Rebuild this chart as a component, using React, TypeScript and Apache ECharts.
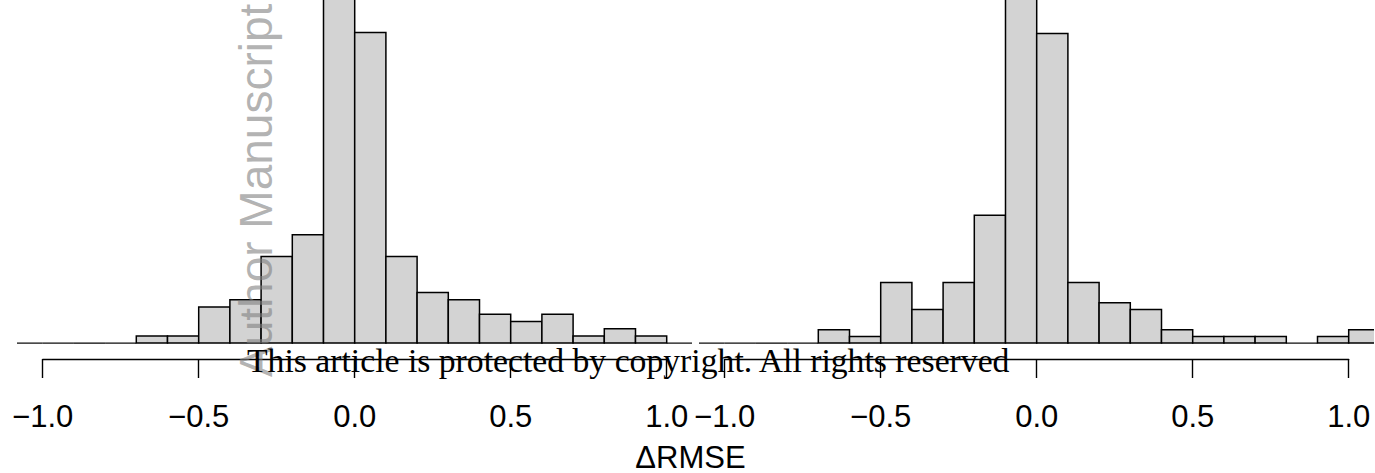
import React, { useEffect, useRef } from "react";
import * as echarts from "echarts";

// ---- data ----
const BIN_STARTS = [-1.1, -1.0, -0.9, -0.8, -0.7, -0.6, -0.5, -0.4, -0.3, -0.2, -0.1, 0.0, 0.1, 0.2, 0.3, 0.4, 0.5, 0.6, 0.7, 0.8, 0.9, 1.0];
const BIN_WIDTH = 0.1;
const LEFT_COUNTS = [0, 0, 0, 0, 1, 1, 5, 6, 12, 15, 55, 43, 12, 7, 6, 4, 3, 4, 1, 2, 1, 0];
const RIGHT_COUNTS = [0, 0, 0, 0, 2, 1, 9, 5, 9, 19, 59, 46, 9, 6, 5, 2, 1, 1, 1, 0, 1, 2];
const AXIS_MIN = -1.0;
const AXIS_MAX = 1.0;
const TICK_STEP = 0.5;
const X_TITLE = "ΔRMSE";
const WATERMARK = "Author Manuscript";
const NOTICE = "This article is protected by copyright. All rights reserved";

// ---- layout ----
const W = 1375;
const H = 473;
const PX_PER_UNIT = 312;
const PAD = 0.04 * (AXIS_MAX - AXIS_MIN);
const AXIS_Y = 359;
const GRID_H = 429;
const SHIFT = GRID_H - AXIS_Y; // plot region extends above the visible page
const LEFT_ORIGIN = 42.7;
const RIGHT_ORIGIN = 724.7;

const fmt = (v: number) => (v < 0 ? "\u2212" : "") + Math.abs(v).toFixed(1);

function histSeries(counts: number[], axisIndex: number) {
  return {
    type: "custom",
    xAxisIndex: axisIndex,
    yAxisIndex: axisIndex,
    clip: true,
    data: BIN_STARTS.map((s, i) => [s, s + BIN_WIDTH, counts[i]]),
    encode: { x: [0, 1], y: 2 },
    renderItem: (params: any, api: any) => {
      const x0 = api.value(0);
      const x1 = api.value(1);
      const c = api.value(2);
      const p0 = api.coord([x0, c]);
      const p1 = api.coord([x1, 0]);
      if (c === 0) {
        return {
          type: "line",
          shape: { x1: p0[0], y1: p1[1], x2: p1[0], y2: p1[1] },
          style: { stroke: "#000", lineWidth: 1.2 },
        };
      }
      return {
        type: "rect",
        shape: { x: p0[0], y: p0[1], width: p1[0] - p0[0], height: p1[1] - p0[1] },
        style: { fill: "#d3d3d3", stroke: "#000", lineWidth: 1.5 },
      };
    },
  };
}

export default function App() {
  const ref = useRef<HTMLDivElement>(null);
  useEffect(() => {
    if (!ref.current) return;
    const chart = echarts.init(ref.current, undefined, { renderer: "svg" });
    const dataWidth = (AXIS_MAX - AXIS_MIN + 2 * PAD) * PX_PER_UNIT;
    const axisWidth = (AXIS_MAX - AXIS_MIN) * PX_PER_UNIT;
    const grid = (left: number, width: number) => ({ left, width, top: 0, height: GRID_H });
    const leftMax = Math.max(...LEFT_COUNTS);
    const rightMax = Math.max(...RIGHT_COUNTS);
    const dataX = (g: number) => ({
      gridIndex: g,
      type: "value",
      min: AXIS_MIN - PAD,
      max: AXIS_MAX + PAD,
      show: false,
    });
    const axisX = (g: number) => ({
      gridIndex: g,
      type: "value",
      min: AXIS_MIN,
      max: AXIS_MAX,
      interval: TICK_STEP,
      axisLine: { show: true, onZero: false, lineStyle: { color: "#000", width: 1.4 } },
      axisTick: { show: true, inside: false, length: 19, lineStyle: { color: "#000", width: 1.4 } },
      splitLine: { show: false },
      axisLabel: {
        show: true,
        formatter: fmt,
        fontSize: 31,
        fontFamily: "Liberation Sans",
        color: "#000",
        margin: 42,
        hideOverlap: false,
        showMinLabel: true,
        showMaxLabel: true,
      },
    });
    const yAx = (g: number, m: number) => ({
      gridIndex: g,
      type: "value",
      min: -0.04 * m,
      max: 1.04 * m,
      show: false,
    });
    chart.setOption({
      animation: false,
      grid: [
        grid(LEFT_ORIGIN - PAD * PX_PER_UNIT, dataWidth),
        grid(LEFT_ORIGIN, axisWidth),
        grid(RIGHT_ORIGIN - PAD * PX_PER_UNIT, dataWidth),
        grid(RIGHT_ORIGIN, axisWidth),
      ],
      xAxis: [dataX(0), axisX(1), dataX(2), axisX(3)],
      yAxis: [yAx(0, leftMax), yAx(1, 1), yAx(2, rightMax), yAx(3, 1)],
      series: [histSeries(LEFT_COUNTS, 0), histSeries(RIGHT_COUNTS, 2)],
      graphic: [
        {
          type: "text",
          z: 100,
          x: 256,
          y: 377 + SHIFT,
          rotation: Math.PI / 2,
          style: {
            text: WATERMARK,
            font: '46px "Liberation Sans"',
            fill: "rgba(128,128,128,0.6)",
            textAlign: "left",
            textVerticalAlign: "middle",
          },
        },
        {
          type: "text",
          z: 101,
          x: 247,
          y: 360 + SHIFT,
          style: {
            text: NOTICE,
            font: '33.7px "Liberation Serif"',
            fill: "#000",
            textAlign: "left",
            textVerticalAlign: "middle",
          },
        },
        {
          type: "text",
          z: 101,
          x: 690.5,
          y: 457 + SHIFT,
          style: {
            text: X_TITLE,
            font: '31px "Liberation Sans"',
            fill: "#000",
            textAlign: "center",
            textVerticalAlign: "middle",
          },
        },
      ],
    });
    return () => chart.dispose();
  }, []);
  return (
    <div style={{ position: "absolute", left: 0, top: 0, width: W, height: H, overflow: "hidden", background: "#fff" }}>
      <div
        ref={ref}
        style={{ position: "absolute", left: 0, top: -SHIFT, width: W, height: H + SHIFT }}
      />
    </div>
  );
}
